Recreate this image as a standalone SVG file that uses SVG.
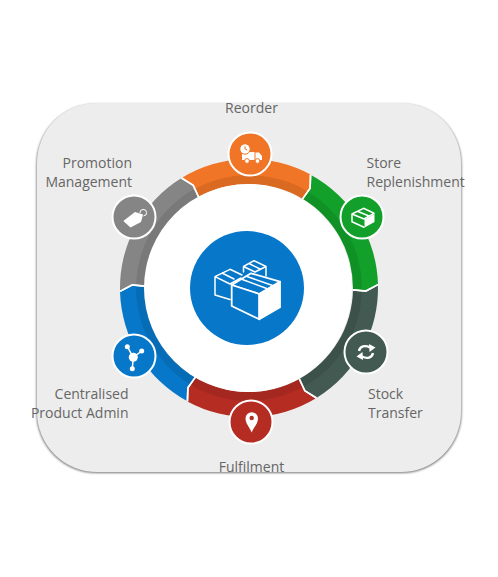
<svg xmlns="http://www.w3.org/2000/svg" width="498" height="577" viewBox="0 0 498 577">
<style>
text{font-family:"Open Sans","Noto Sans","Liberation Sans",sans-serif;font-size:14px;fill:#666}
.e{text-anchor:end}.m{text-anchor:middle}
.band{fill:#000;fill-opacity:.09}
.gap{fill:none;stroke:#fff;stroke-width:1.6}
.disc{stroke:#fff;stroke-width:2}
.w{fill:#fff}
.l{fill:none;stroke:#fff;stroke-width:1.5;stroke-linejoin:round;stroke-linecap:round}
</style>
<defs>
<path id="seg" d="M-67.4-110A129 129 0 0 1 61.6-113.4L61.1-99.8 53.6-89.1A104 104 0 0 0-50.4-91L-55.8-102.8Z"/>
<path id="band" d="M-54.1-99.1A113 113 0 0 1 58.8-96.5L53.6-89.1A104 104 0 0 0-50.4-91Z"/>
<path id="gap" d="M-67.4-110L-55.8-102.8-50.4-91M61.6-113.4L61.1-99.8 53.6-89.1"/>
<filter id="sh" x="-5%" y="-5%" width="110%" height="110%"><feGaussianBlur stdDeviation="0.8"/></filter>
</defs>
<rect x="0" y="0" width="498" height="577" fill="#fff"/>
<g id="panel">
<rect x="36.5" y="104" width="425" height="369" rx="60" fill="#777" filter="url(#sh)"/>
<rect x="37" y="103" width="424" height="369" rx="60" fill="#ededed"/>
</g>
<g id="connectors">
<g transform="translate(249 288)">
<g fill="#f07526"><use href="#seg"/><use href="#band" class="band"/></g>
<g fill="#12a02a" transform="rotate(60)"><use href="#seg"/><use href="#band" class="band"/></g>
<g fill="#425a52" transform="rotate(120)"><use href="#seg"/><use href="#band" class="band"/></g>
<g fill="#b52c23" transform="rotate(180)"><use href="#seg"/><use href="#band" class="band"/></g>
<g fill="#0777c9" transform="rotate(240)"><use href="#seg"/><use href="#band" class="band"/></g>
<g fill="#858585" transform="rotate(300)"><use href="#seg"/><use href="#band" class="band"/></g>
<use href="#gap" class="gap"/>
<use href="#gap" class="gap" transform="rotate(60)"/>
<use href="#gap" class="gap" transform="rotate(120)"/>
<use href="#gap" class="gap" transform="rotate(180)"/>
<use href="#gap" class="gap" transform="rotate(240)"/>
<use href="#gap" class="gap" transform="rotate(300)"/>
</g>
</g>
<g id="hub">
<circle cx="248" cy="288" r="104" fill="#fff"/>
<circle cx="247" cy="288" r="57" fill="#0777c9"/>
<path class="w" d="M243 267L254 261 266 267 266 272 256 272 243 270Z" fill-opacity="0"/>
<path class="l" d="M243.500 272V266.500L254 260.700 266 266.500V276M243.500 266.500L255 272 266 266.500M249 263.500L260 269"/>
<path class="l" d="M215 276.700L230 269.300 242 275M215 276.700V295L230 299.500M215 276.700L230 284 241 278M222 273L234 279"/>
<path d="M231.700 285L251 273.300 280 281.700 259.300 294Z" fill="#0777c9" stroke="#fff" stroke-width="1.800" stroke-linejoin="round"/>
<path d="M231.700 285L259.300 294V319.300L231.700 306Z" fill="#0777c9" stroke="#fff" stroke-width="1.800" stroke-linejoin="round"/>
<path class="w" d="M259.300 294L280 281.700V307.300L259.300 319.300Z" stroke="#fff" stroke-width="1.800" stroke-linejoin="round"/>
<path class="l" d="M241 279L268 289M247 276.500L274 286"/>
</g>
<g id="reorder">
<circle class="disc" cx="250" cy="154" r="21.500" fill="#f07526"/>
<path class="w" d="M242 152H254.500V160H242ZM255.500 152.500H259L262 156V160H255.500Z"/>
<circle cx="245" cy="149" r="5.200" fill="#fff" stroke="#f07526" stroke-width="1"/>
<path d="M245 146.200V149L247.200 150" fill="none" stroke="#f07526" stroke-width="1"/>
<circle cx="247" cy="161" r="2.400" fill="#fff" stroke="#f07526"/>
<circle cx="257.500" cy="161" r="2.400" fill="#fff" stroke="#f07526"/>
<text class="m" x="251.500" y="113">Reorder</text>
</g>
<g id="store-replenishment">
<circle class="disc" cx="362" cy="217" r="21.500" fill="#12a02a"/>
<path class="l" d="M352 214L363.500 208.300 374 213.300M352 214V221.700L364 227.300M352 214L364 219 374 213.300M358 211.500L369 216"/>
<path class="w" d="M364.500 219.500L374.500 214V222L364.500 227.500Z"/>
<text x="366.500" y="168">Store</text>
<text x="366.500" y="187">Replenishment</text>
</g>
<g id="stock-transfer">
<circle class="disc" cx="366" cy="352" r="21.500" fill="#425a52"/>
<path d="M359 351C360 346 365 345 370 347.500" fill="none" stroke="#fff" stroke-width="2.400"/>
<path class="w" d="M369 344L375.500 347.500 369.500 352Z"/>
<path d="M373 353C372 358 367 359 362 356.500" fill="none" stroke="#fff" stroke-width="2.400"/>
<path class="w" d="M363 360L356.500 356.500 362.500 352Z"/>
<text x="368" y="399">Stock</text>
<text x="368" y="418">Transfer</text>
</g>
<g id="fulfilment">
<circle class="disc" cx="251" cy="422" r="21.500" fill="#b52c23"/>
<path class="w" d="M251.700 432.500C249.500 427 245.500 423.500 245.500 418.500A6.200 6.200 0 0 1 258 418.500C258 423.500 254 427 251.700 432.500Z"/>
<circle cx="251.700" cy="418" r="2.200" fill="#b52c23"/>
<text class="m" x="251.500" y="472">Fulfilment</text>
</g>
<g id="centralised-product-admin">
<circle class="disc" cx="134" cy="356" r="21.500" fill="#0777c9"/>
<path d="M133.300 357.300L127.300 346.700M133.300 357.300L141.700 351M133.300 357.300L132.300 368.700" stroke="#fff" stroke-width="1.500"/>
<circle class="w" cx="133.300" cy="357.300" r="4.500"/>
<circle class="w" cx="127.300" cy="346.700" r="2.500"/>
<circle class="w" cx="141.700" cy="351" r="2.500"/>
<circle class="w" cx="132.300" cy="368.700" r="2.500"/>
<text class="e" x="128.500" y="399">Centralised</text>
<text class="e" x="128.500" y="418">Product Admin</text>
</g>
<g id="promotion-management">
<circle class="disc" cx="134" cy="217" r="21.500" fill="#858585"/>
<path class="w" d="M123.300 221L135 212 143 214.500 141 222 130.500 227.500Z"/>
<path d="M140 213A3.300 3.300 0 1 1 143.500 216" fill="none" stroke="#fff" stroke-width="1"/>
<text class="e" x="132" y="168">Promotion</text>
<text class="e" x="132" y="187">Management</text>
</g>
</svg>
